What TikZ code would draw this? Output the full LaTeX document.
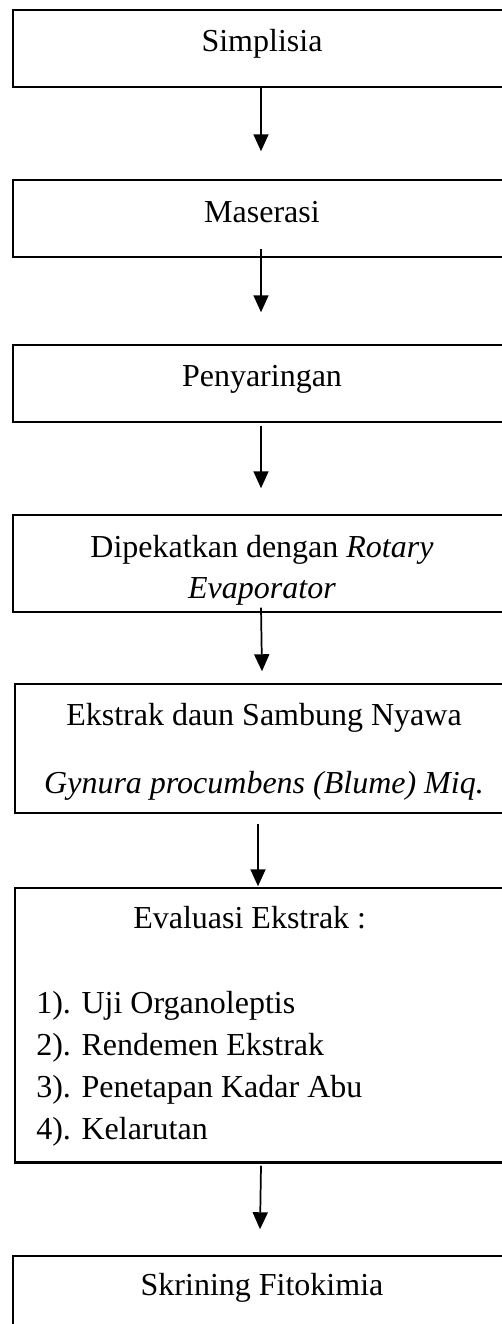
\documentclass[tikz,border=0pt]{standalone}
\usepackage{fontspec}
\setmainfont{Liberation Serif}
\usetikzlibrary{arrows.meta,calc}

\tikzset{
  stepbox/.style 2 args={draw=black, line width=1.1pt, rectangle, inner sep=0pt,
    minimum width=#1*0.75pt, minimum height=#2*0.75pt},
  txt/.style={inner sep=0pt, anchor=base, font=\fontsize{24}{31.5}\selectfont},
  txtl/.style={txt, anchor=base west},
  arr/.style={line width=1.3pt, -{Triangle[width=11.25pt,length=12.75pt]}}
}

\begin{document}
\begin{tikzpicture}[x=0.75pt, y=-0.75pt]
  \useasboundingbox (0,0) rectangle (502,1324);
  \clip (0,0) rectangle (502,1324);

  % process boxes (right edges run past the page edge)
  \node[stepbox={496}{77}]  (b1) at (261,48.5) {};
  \node[stepbox={496}{77}]  (b2) at (261,218.5) {};
  \node[stepbox={496}{77}]  (b3) at (261,383.5) {};
  \node[stepbox={496}{97}]  (b4) at (261,563.5) {};
  \node[stepbox={494}{129}] (b5) at (262,748.5) {};
  \node[stepbox={494}{274}] (b6) at (262,1025) {};
  \node[stepbox={496}{120}] (b7) at (261,1316) {};
  \draw[line width=1.8pt] (b6.south west) -- (b6.south east);

  % labels
  \node[txt] (t1) at (262,51) {Simplisia};
  \node[txt] (t2) at (262,222) {Maserasi};
  \node[txt] (t3) at (262,386) {Penyaringan};
  \node[txt] (t4a) at (262,557) {Dipekatkan dengan \textit{Rotary}};
  \node[txt] (t4b) at (262,598) {\textit{Evaporator}};
  \node[txt] (t5a) at (264,725) {Ekstrak daun Sambung Nyawa};
  \node[txt] (t5b) at (264,793) {\textit{Gynura procumbens (Blume) Miq.}};
  \node[txtl] (t6) at (133,928) {Evaluasi Ekstrak :};
  \node[txtl] (i1) at (36,1013) {1). Uji Organoleptis};
  \node[txtl] (i2) at (36,1055) {2). Rendemen Ekstrak};
  \node[txtl] (i3) at (36,1097) {3). Penetapan Kadar Abu};
  \node[txtl] (i4) at (36,1139) {4). Kelarutan};
  \node[txt] (t7) at (262,1295) {Skrining Fitokimia};

  % flow arrows
  \draw[arr] (b1.south) -- ($(b2.north)+(0,-28)$);
  \draw[arr] ($(b2.south)+(0,-9)$) -- ($(b3.north)+(0,-32)$);
  \draw[arr] ($(b3.south)+(0,3)$) -- ($(b4.north)+(0,-26)$);
  \draw[arr] ($(b4.south)+(0,-5)$) -- ($(b5.north)+(0,-12)$);
  \draw[arr] ($(b5.south)+(-4,10)$) -- ($(b6.north)+(-4,-1)$);
  \draw[arr] ($(b6.south)+(-1,3)$) -- ($(b7.north)+(-1,-26)$);
\end{tikzpicture}
\end{document}
